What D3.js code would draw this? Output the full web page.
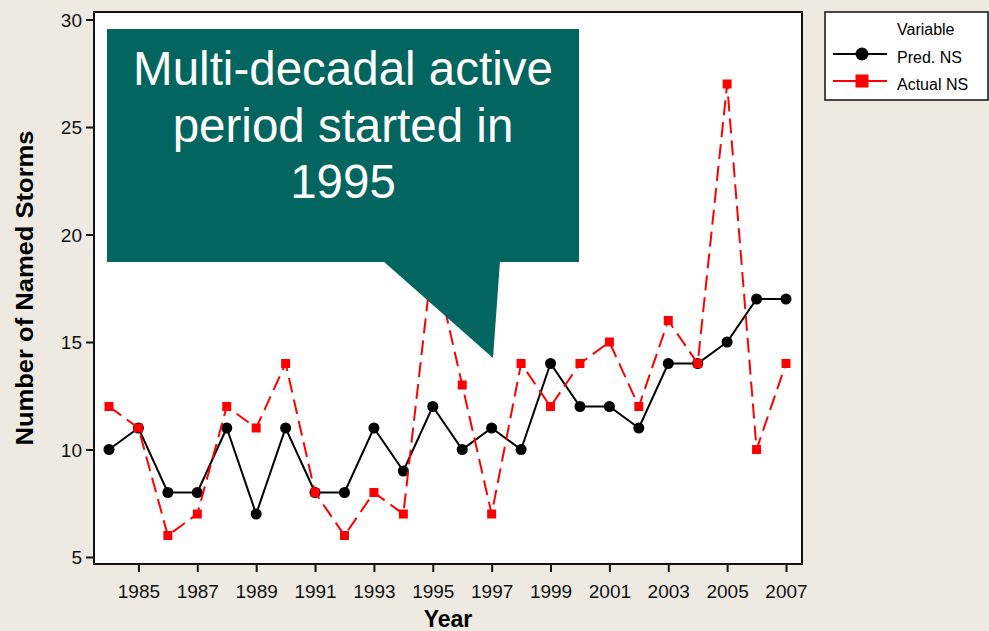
<!DOCTYPE html>
<html>
<head>
<meta charset="utf-8">
<script src="https://cdn.jsdelivr.net/npm/d3@7"></script>
<style>
  body { margin: 0; background: #EEEAE1; }
  svg { display: block; font-family: Arial, "Liberation Sans", sans-serif; }
</style>
</head>
<body>
<script>
// data
var years = [1984, 1985, 1986, 1987, 1988, 1989, 1990, 1991, 1992, 1993, 1994, 1995,
             1996, 1997, 1998, 1999, 2000, 2001, 2002, 2003, 2004, 2005, 2006, 2007];
var predNS = [10, 11, 8, 8, 11, 7, 11, 8, 8, 11, 9, 12, 10, 11, 10, 14, 12, 12, 11, 14, 14, 15, 17, 17];
var actualNS = [12, 11, 6, 7, 12, 11, 14, 8, 6, 8, 7, 19, 13, 7, 14, 12, 14, 15, 12, 16, 14, 27, 10, 14];
var yearTicks = [1985, 1987, 1989, 1991, 1993, 1995, 1997, 1999, 2001, 2003, 2005, 2007];
var stormTicks = [5, 10, 15, 20, 25, 30];
var calloutLines = ['Multi-decadal active', 'period started in', '1995'];

var svg = d3.select('body').append('svg')
    .attr('width', 989)
    .attr('height', 631);

var frame = {left: 94, top: 12, right: 802, bottom: 564};

var x = d3.scaleLinear().domain([1984, 2007]).range([109, 786]);
var y = d3.scaleLinear().domain([5, 30]).range([557, 19.5]);

// plot area
svg.append('rect')
    .attr('x', frame.left)
    .attr('y', frame.top)
    .attr('width', frame.right - frame.left)
    .attr('height', frame.bottom - frame.top)
    .attr('fill', 'white')
    .attr('stroke', '#111')
    .attr('stroke-width', 2);

// axes
var xAxis = svg.append('g')
    .attr('transform', 'translate(0,' + frame.bottom + ')')
    .call(d3.axisBottom(x).tickValues(yearTicks).tickFormat(d3.format('d')).tickSize(8).tickPadding(13));
var yAxis = svg.append('g')
    .attr('transform', 'translate(' + frame.left + ',0)')
    .call(d3.axisLeft(y).tickValues(stormTicks).tickSize(8).tickPadding(4));

[xAxis, yAxis].forEach(function(a) {
    a.select('.domain').remove();
    a.selectAll('.tick line').attr('stroke', '#111').attr('stroke-width', 2);
    a.selectAll('.tick text').attr('fill', '#111').style('font-size', '19px')
        .style('font-family', 'Arial, "Liberation Sans", sans-serif');
});
yAxis.selectAll('.tick text').attr('dy', '0.36em');

// axis titles
svg.append('text')
    .attr('x', (frame.left + frame.right) / 2)
    .attr('y', 627)
    .attr('text-anchor', 'middle')
    .style('font-size', '23px')
    .style('font-weight', 'bold')
    .text('Year');

svg.append('text')
    .attr('transform', 'translate(33,' + ((frame.top + frame.bottom) / 2) + ') rotate(-90)')
    .attr('text-anchor', 'middle')
    .attr('textLength', 315)
    .attr('lengthAdjust', 'spacingAndGlyphs')
    .style('font-size', '23px')
    .style('font-weight', 'bold')
    .text('Number of Named Storms');

// series
var line = d3.line()
    .x(function(d, i) { return x(years[i]); })
    .y(function(d) { return y(d); });

svg.append('path')
    .datum(predNS)
    .attr('d', line)
    .attr('fill', 'none')
    .attr('stroke', 'black')
    .attr('stroke-width', 2);

svg.selectAll('.pred')
    .data(predNS)
    .enter().append('circle')
    .attr('class', 'pred')
    .attr('cx', function(d, i) { return x(years[i]); })
    .attr('cy', function(d) { return y(d); })
    .attr('r', 5.5)
    .attr('fill', 'black');

svg.append('path')
    .datum(actualNS)
    .attr('d', line)
    .attr('fill', 'none')
    .attr('stroke', 'red')
    .attr('stroke-width', 2)
    .attr('stroke-dasharray', '15,7');

svg.selectAll('.actual')
    .data(actualNS)
    .enter().append('rect')
    .attr('class', 'actual')
    .attr('x', function(d, i) { return x(years[i]) - 4.5; })
    .attr('y', function(d) { return y(d) - 4.5; })
    .attr('width', 9)
    .attr('height', 9)
    .attr('fill', 'red');

// callout
var callout = svg.append('g');
callout.append('rect')
    .attr('x', 107)
    .attr('y', 29)
    .attr('width', 472)
    .attr('height', 233)
    .attr('fill', '#02655F');
callout.append('path')
    .attr('d', 'M383,261 L500,261 L493,358 Z')
    .attr('fill', '#02655F');
callout.selectAll('text')
    .data(calloutLines)
    .enter().append('text')
    .attr('x', 343)
    .attr('y', function(d, i) { return 85 + i * 56.5; })
    .attr('text-anchor', 'middle')
    .attr('fill', 'white')
    .style('font-size', '47.5px')
    .text(function(d) { return d; });

// legend
var legend = svg.append('g');
legend.append('rect')
    .attr('x', 825)
    .attr('y', 12)
    .attr('width', 163)
    .attr('height', 88)
    .attr('fill', 'white')
    .attr('stroke', '#111')
    .attr('stroke-width', 1.5);
legend.append('text')
    .attr('x', 897)
    .attr('y', 35)
    .style('font-size', '16px')
    .text('Variable');

var items = [
    {name: 'Pred. NS', color: 'black', shape: 'circle'},
    {name: 'Actual NS', color: 'red', shape: 'square'}
];
items.forEach(function(it, i) {
    var cy = 54 + i * 27;
    legend.append('line')
        .attr('x1', 833).attr('x2', 887)
        .attr('y1', cy).attr('y2', cy)
        .attr('stroke', it.color)
        .attr('stroke-width', 2);
    if (it.shape == 'circle') {
        legend.append('circle').attr('cx', 862).attr('cy', cy).attr('r', 6.5).attr('fill', it.color);
    } else {
        legend.append('rect').attr('x', 855.5).attr('y', cy - 6.5).attr('width', 13).attr('height', 13).attr('fill', it.color);
    }
    legend.append('text')
        .attr('x', 897)
        .attr('y', cy + 9)
        .style('font-size', '16px')
        .text(it.name);
});
</script>
</body>
</html>
